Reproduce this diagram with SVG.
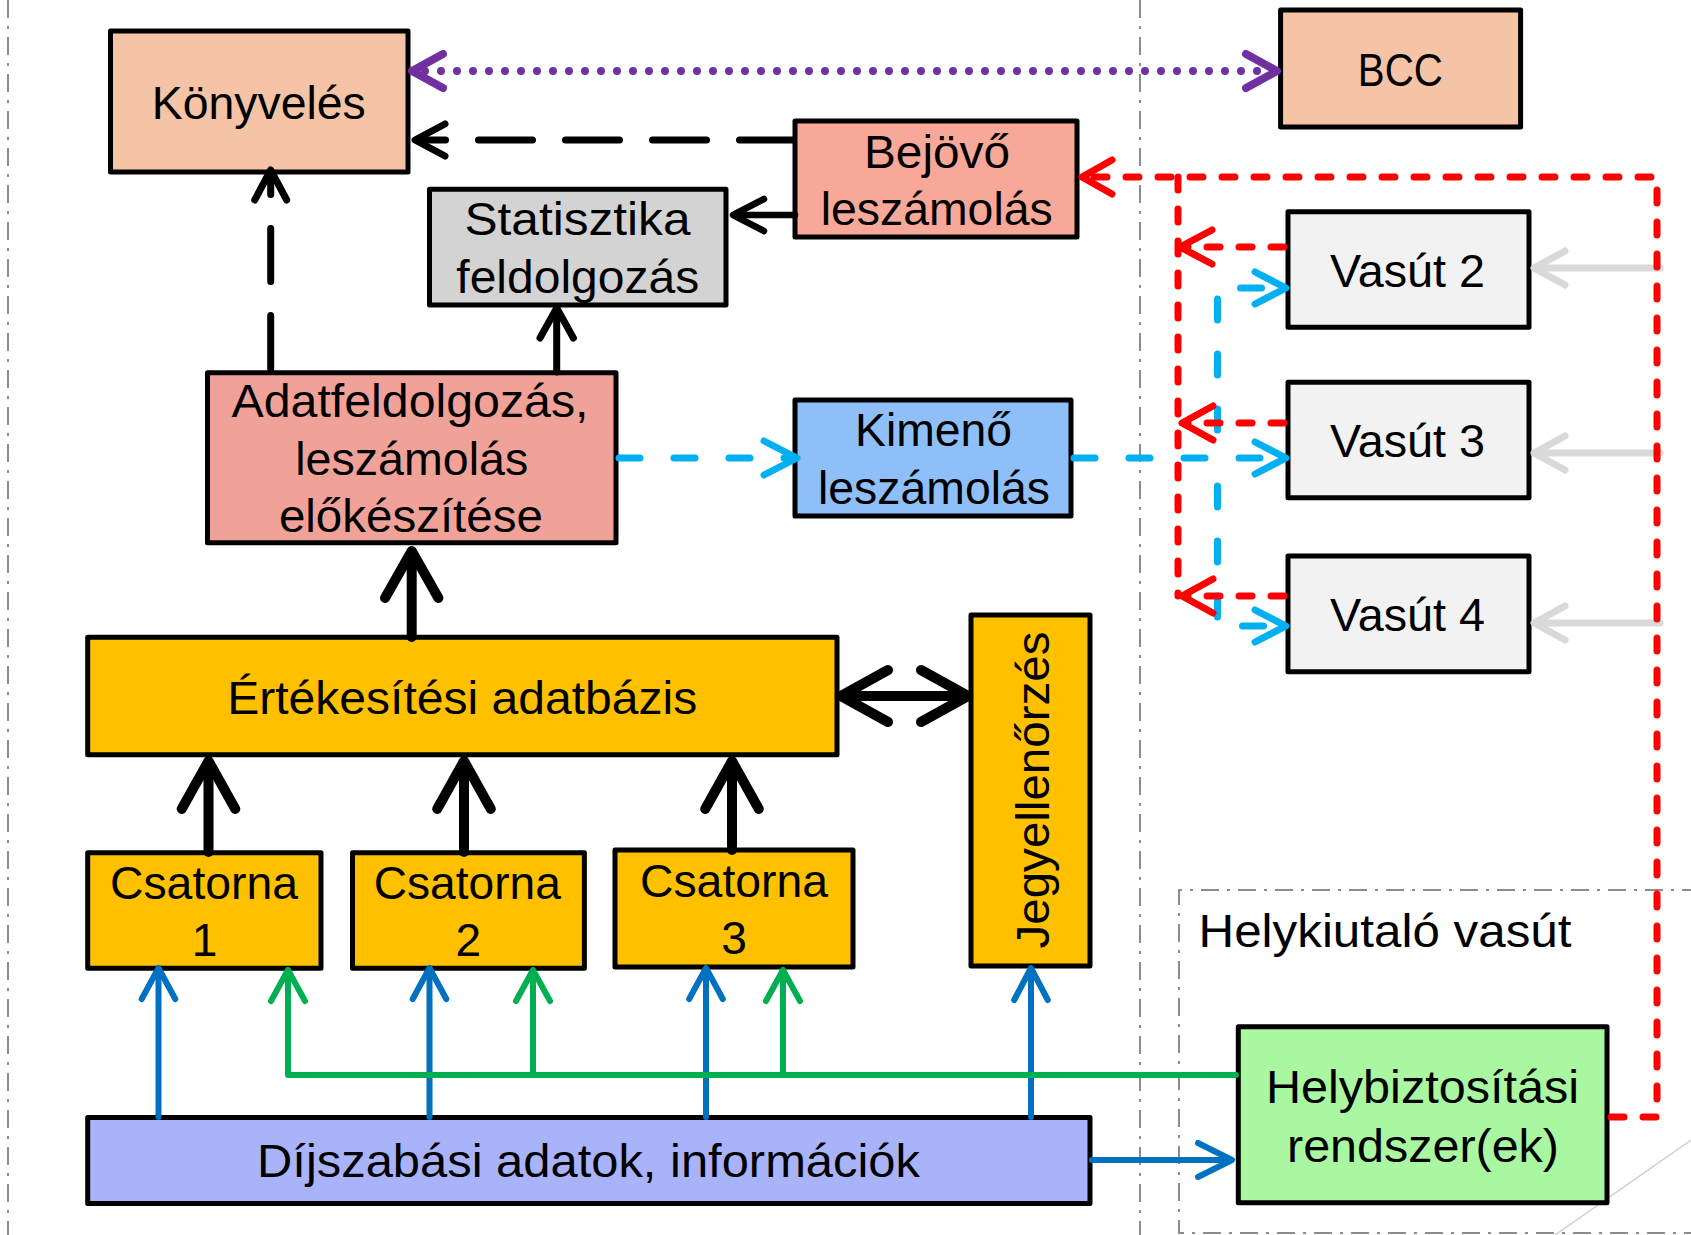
<svg xmlns="http://www.w3.org/2000/svg" width="1691" height="1235" viewBox="0 0 1691 1235">
<style>
.box{stroke:#000;stroke-width:5;stroke-linejoin:round}
.t{font-family:"Liberation Sans",Arial,sans-serif;font-size:46px;fill:#000;text-anchor:middle}
.frame{fill:none;stroke:#8c8c8c;stroke-width:2;stroke-dasharray:18 8 3 8}
.ln{fill:none;stroke-linecap:round;stroke-linejoin:round}
.blk{stroke:#000;stroke-width:7}
.thick{stroke:#000;stroke-width:10}
.red{stroke:#ff0000;stroke-width:7}
.cyan{stroke:#00b0f0;stroke-width:7}
.blue{stroke:#0070c0;stroke-width:6}
.green{stroke:#00b050;stroke-width:6}
.gray{stroke:#d9d9d9;stroke-width:7}
.purple{stroke:#7030a0;stroke-width:8}
</style>
<rect x="0" y="0" width="1691" height="1235" fill="#ffffff"/>

<g id="frames">
  <line class="frame" x1="8" y1="0" x2="8" y2="1235"/>
  <line class="frame" x1="1140" y1="0" x2="1140" y2="1235"/>
  <path class="frame" d="M1700,890 H1179 V1233 H1700"/>
  <line x1="1691" y1="1140" x2="1555" y2="1235" stroke="#d0d0d0" stroke-width="1.5"/>
  <text class="t" x="1385" y="946.7" textLength="373" lengthAdjust="spacingAndGlyphs">Helykiutaló vasút</text>
</g>

<g id="nodes">
  <g id="konyveles"><rect class="box" x="110.5" y="31" width="297.5" height="141" fill="#f5c3a5"/>
    <text class="t" x="258.8" y="118.6" textLength="214" lengthAdjust="spacingAndGlyphs">Könyvelés</text></g>
  <g id="bcc"><rect class="box" x="1280.6" y="10" width="240" height="117" fill="#f5c3a5"/>
    <text class="t" x="1400.3" y="86.2" textLength="85" lengthAdjust="spacingAndGlyphs">BCC</text></g>
  <g id="bejovo"><rect class="box" x="795" y="121" width="282" height="116" fill="#f8a898"/>
    <text class="t" x="937" y="167.7" textLength="146" lengthAdjust="spacingAndGlyphs">Bejövő</text>
    <text class="t" x="936.7" y="225" textLength="232" lengthAdjust="spacingAndGlyphs">leszámolás</text></g>
  <g id="statisztika"><rect class="box" x="429.5" y="189.3" width="296.5" height="115.7" fill="#d3d3d3"/>
    <text class="t" x="577.5" y="235" textLength="226" lengthAdjust="spacingAndGlyphs">Statisztika</text>
    <text class="t" x="577.8" y="293.3" textLength="243" lengthAdjust="spacingAndGlyphs">feldolgozás</text></g>
  <g id="adatfeldolgozas"><rect class="box" x="207.5" y="372.7" width="408.5" height="170" fill="#f1a298"/>
    <text class="t" x="410" y="417.3" textLength="357" lengthAdjust="spacingAndGlyphs">Adatfeldolgozás,</text>
    <text class="t" x="411.7" y="475" textLength="233" lengthAdjust="spacingAndGlyphs">leszámolás</text>
    <text class="t" x="410.9" y="531.7" textLength="264" lengthAdjust="spacingAndGlyphs">előkészítése</text></g>
  <g id="kimeno"><rect class="box" x="795" y="400" width="276" height="116" fill="#8ebff8"/>
    <text class="t" x="933.5" y="445.7" textLength="157" lengthAdjust="spacingAndGlyphs">Kimenő</text>
    <text class="t" x="934" y="504" textLength="232" lengthAdjust="spacingAndGlyphs">leszámolás</text></g>
  <g id="vasut2"><rect class="box" x="1288" y="211.7" width="241" height="115.6" fill="#f2f2f2"/>
    <text class="t" x="1407.5" y="287.3" textLength="155" lengthAdjust="spacingAndGlyphs">Vasút 2</text></g>
  <g id="vasut3"><rect class="box" x="1288" y="382.3" width="241" height="115.4" fill="#f2f2f2"/>
    <text class="t" x="1407.5" y="456.7" textLength="155" lengthAdjust="spacingAndGlyphs">Vasút 3</text></g>
  <g id="vasut4"><rect class="box" x="1288" y="556" width="241" height="115.7" fill="#f2f2f2"/>
    <text class="t" x="1407.5" y="630.7" textLength="155" lengthAdjust="spacingAndGlyphs">Vasút 4</text></g>
  <g id="ertekesitesi"><rect class="box" x="87.7" y="637.2" width="749.3" height="117.5" fill="#ffc000"/>
    <text class="t" x="462.2" y="713.8" textLength="470" lengthAdjust="spacingAndGlyphs">Értékesítési adatbázis</text></g>
  <g id="jegyellenorzes"><rect class="box" x="971" y="615" width="119" height="351" fill="#ffc000"/>
    <text class="t" transform="translate(1049,790) rotate(-90)" x="0" y="0" textLength="317" lengthAdjust="spacingAndGlyphs">Jegyellenőrzés</text></g>
  <g id="csatorna1"><rect class="box" x="87.7" y="852.7" width="233.3" height="115.6" fill="#ffc000"/>
    <text class="t" x="204" y="899.4" textLength="188" lengthAdjust="spacingAndGlyphs">Csatorna</text>
    <text class="t" x="204.5" y="956">1</text></g>
  <g id="csatorna2"><rect class="box" x="352.5" y="852.7" width="231.9" height="115.6" fill="#ffc000"/>
    <text class="t" x="467.3" y="899.4" textLength="187" lengthAdjust="spacingAndGlyphs">Csatorna</text>
    <text class="t" x="468.4" y="956">2</text></g>
  <g id="csatorna3"><rect class="box" x="615" y="850" width="238" height="117" fill="#ffc000"/>
    <text class="t" x="734" y="896.5" textLength="188" lengthAdjust="spacingAndGlyphs">Csatorna</text>
    <text class="t" x="734" y="954">3</text></g>
  <g id="dijszabasi"><rect class="box" x="87.7" y="1117.5" width="1002.3" height="86.1" fill="#a9b3f9"/>
    <text class="t" x="588.5" y="1176.8" textLength="663" lengthAdjust="spacingAndGlyphs">Díjszabási adatok, információk</text></g>
  <g id="helybiztositasi"><rect class="box" x="1238.3" y="1026.7" width="368.7" height="176" fill="#a9f7a0"/>
    <text class="t" x="1422.5" y="1103.3" textLength="313" lengthAdjust="spacingAndGlyphs">Helybiztosítási</text>
    <text class="t" x="1423" y="1161.7" textLength="272" lengthAdjust="spacingAndGlyphs">rendszer(ek)</text></g>
</g>

<g id="connectors">
  <!-- purple dotted BCC <-> Könyvelés -->
  <path class="ln purple" d="M425,71 H1262" stroke-dasharray="0 16"/>
  <polyline class="ln purple" points="443,54 412,71 443,88"/>
  <polyline class="ln purple" points="1246,54 1277,71 1246,88"/>

  <!-- black dashed Bejövő -> Könyvelés -->
  <path class="ln blk" d="M793.5,140 H418" stroke-dasharray="54 33"/>
  <polyline class="ln blk" points="445,124 415,140 445,156"/>

  <!-- Bejövő -> Statisztika -->
  <path class="ln blk" d="M795,215 H736" style="stroke-width:6.5"/>
  <polyline class="ln blk" points="764,199 733,215 764,231" style="stroke-width:6.5"/>

  <!-- Adatfeldolgozás -> Könyvelés dashed -->
  <path class="ln blk" d="M270.7,368.5 V173" stroke-dasharray="53 34"/>
  <polyline class="ln blk" points="254.7,200 270.7,170 286.7,200"/>

  <!-- Adatfeldolgozás -> Statisztika -->
  <path class="ln blk" d="M556.7,372 V311"/>
  <polyline class="ln blk" points="540,338 556.7,308 573.4,338"/>

  <!-- Értékesítési -> Adatfeldolgozás -->
  <path class="ln thick" d="M411.7,637 V555"/>
  <polyline class="ln thick" points="385,598 411.7,551 438.4,598"/>

  <!-- Csatorna -> Értékesítési -->
  <path class="ln thick" d="M208.5,852 V765"/>
  <polyline class="ln thick" points="181.7,809 208.5,761 235.3,809"/>
  <path class="ln thick" d="M464,852 V765"/>
  <polyline class="ln thick" points="437.2,809 464,761 490.8,809"/>
  <path class="ln thick" d="M732,850 V765"/>
  <polyline class="ln thick" points="705.2,809 732,761 758.8,809"/>

  <!-- Értékesítési <-> Jegyellenőrzés -->
  <path class="ln thick" d="M845,696 H964"/>
  <polyline class="ln thick" points="888,670 841,696 888,722"/>
  <polyline class="ln thick" points="921,670 968,696 921,722"/>

  <!-- cyan dashed Adatfeldolgozás -> Kimenő -->
  <path class="ln cyan" d="M619,458 H794" stroke-dasharray="21 34"/>
  <polyline class="ln cyan" points="764,441 797,458 764,475"/>
  <!-- cyan dashed Kimenő -> Vasút -->
  <path class="ln cyan" d="M1074,458 H1284" stroke-dasharray="21 34"/>
  <polyline class="ln cyan" points="1255,442 1286,458 1255,474"/>
  <path class="ln cyan" d="M1217.5,430 V288 H1284" stroke-dasharray="21 34"/>
  <polyline class="ln cyan" points="1255,272 1286,288 1255,304"/>
  <path class="ln cyan" d="M1217.5,486 V626 H1284" stroke-dasharray="21 34"/>
  <polyline class="ln cyan" points="1255,610 1286,626 1255,642"/>

  <!-- gray Vasút inputs -->
  <path class="ln gray" d="M1660,268 H1536"/>
  <polyline class="ln gray" points="1565,251 1534,268 1565,285"/>
  <path class="ln gray" d="M1660,453 H1536"/>
  <polyline class="ln gray" points="1565,436 1534,453 1565,470"/>
  <path class="ln gray" d="M1660,623 H1536"/>
  <polyline class="ln gray" points="1565,606 1534,623 1565,640"/>

  <!-- red dashed -->
  <path class="ln red" d="M1611,1117 H1657 V177 H1085" stroke-dasharray="13 19"/>
  <polyline class="ln red" points="1112,160 1082,177 1112,194"/>
  <path class="ln red" d="M1178,177 V596" stroke-dasharray="13 19"/>
  <path class="ln red" d="M1284,247 H1182" stroke-dasharray="13 19"/>
  <polyline class="ln red" points="1212,230 1180,247 1212,264"/>
  <path class="ln red" d="M1284,423 H1184" stroke-dasharray="13 19"/>
  <polyline class="ln red" points="1213,406 1182,423 1213,440"/>
  <path class="ln red" d="M1284,596 H1184" stroke-dasharray="13 19"/>
  <polyline class="ln red" points="1213,579 1182,596 1213,613"/>

  <!-- blue Díjszabási -> Csatorna / Jegy / Helyb -->
  <path class="ln blue" d="M158.5,1117 V972"/>
  <polyline class="ln blue" points="141.7,999 158.5,968 175.3,999"/>
  <path class="ln blue" d="M429.5,1117 V972"/>
  <polyline class="ln blue" points="412.7,999 429.5,968 446.3,999"/>
  <path class="ln blue" d="M706,1117 V972"/>
  <polyline class="ln blue" points="689.2,999 706,968 722.8,999"/>
  <path class="ln blue" d="M1031,1117 V972"/>
  <polyline class="ln blue" points="1014.2,1000 1031,968 1047.8,1000"/>
  <path class="ln blue" d="M1092,1160 H1229"/>
  <polyline class="ln blue" points="1198,1143 1232,1160 1198,1177"/>

  <!-- green Helyb -> Csatorna -->
  <path class="ln green" d="M1236,1075 H288 V974"/>
  <path class="ln green" d="M533,1075 V974"/>
  <path class="ln green" d="M783,1075 V974"/>
  <polyline class="ln green" points="271,1001 288,970 305,1001"/>
  <polyline class="ln green" points="516,1001 533,970 550,1001"/>
  <polyline class="ln green" points="766,1001 783,970 800,1001"/>
</g>
</svg>
